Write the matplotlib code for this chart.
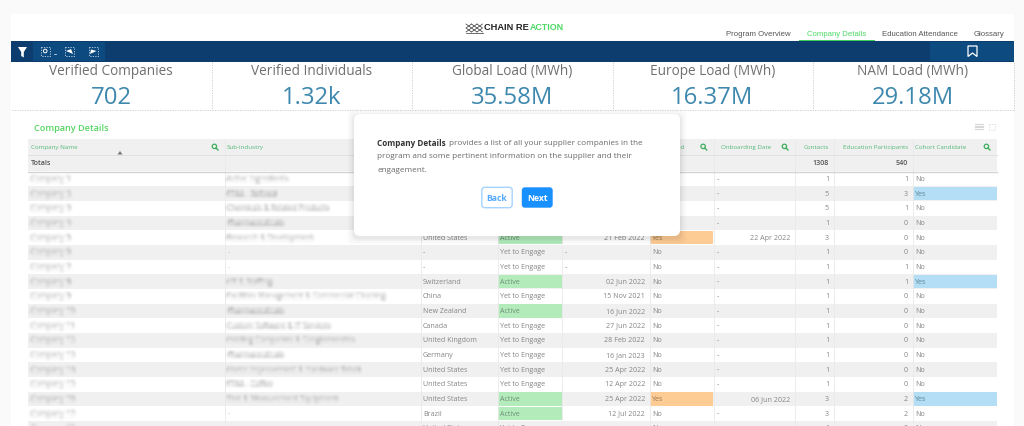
import numpy as np
import matplotlib
matplotlib.use("Agg")
import matplotlib.pyplot as plt
from matplotlib.patches import Rectangle, FancyBboxPatch, Polygon, Circle

# ---------- data ----------
kpi_titles = ["Verified Companies", "Verified Individuals", "Global Load (MWh)", "Europe Load (MWh)", "NAM Load (MWh)"]
kpi_values = ["702", "1.32k", "35.58M", "16.37M", "29.18M"]
tabs = ["Program Overview", "Company Details", "Education Attendance", "Glossary"]
headers = ["Company Name", "Sub-industry", "", "", "", "Onboarded", "Onboarding Date",
           "Contacts", "Education Participants", "Cohort Candidate"]
total_contacts = 1308
total_participants = 540
companies = [f"Company {i}" for i in range(1, 19)]
sub_industries = ["Active Ingredients", "PFAA - Refined", "Chemicals & Related Products", "Pharmaceuticals",
                  "Research & Development", "-", "-", "HR & Staffing",
                  "Facilities Management & Commercial Cleaning", "Pharmaceuticals",
                  "Custom Software & IT Services", "Holding Companies & Conglomerates", "Pharmaceuticals",
                  "Home Improvement & Hardware Retail", "PFAA - Coffee", "Test & Measurement Equipment", "-", "-"]
countries = ["", "", "", "", "United States", "-", "-", "Switzerland", "China", "New Zealand", "Canada",
             "United Kingdom", "Germany", "United States", "United States", "United States", "Brazil", "United States"]
statuses = ["", "", "", "", "Active", "Yet to Engage", "Yet to Engage", "Active", "Yet to Engage", "Active",
            "Yet to Engage", "Yet to Engage", "Yet to Engage", "Yet to Engage", "Yet to Engage", "Active", "Active",
            "Yet to Engage"]
added = ["", "", "", "", "21 Feb 2022", "-", "-", "02 Jun 2022", "15 Nov 2021", "16 Jun 2022", "27 Jun 2022",
         "28 Feb 2022", "16 Jan 2023", "25 Apr 2022", "12 Apr 2022", "25 Apr 2022", "12 Jul 2022", "14 Jul 2022"]
onboarded = ["", "", "", "", "Yes", "No", "No", "No", "No", "No", "No", "No", "No", "No", "No", "Yes", "No", "No"]
onboarding_dates = ["-", "-", "-", "-", "22 Apr 2022", "-", "-", "-", "-", "-", "-", "-", "-", "-", "-",
                    "06 Jun 2022", "-", "-"]
contacts = [1, 5, 5, 1, 3, 1, 1, 1, 1, 1, 1, 1, 1, 1, 1, 3, 3, 1]
participants = [1, 3, 1, 0, 0, 0, 1, 1, 0, 0, 0, 0, 0, 0, 0, 2, 2, 0]
cohort = ["No", "Yes", "No", "No", "No", "No", "No", "Yes", "No", "No", "No", "No", "No", "No", "No", "Yes", "No", "No"]

# ---------- layout / style ----------
W, H = 1024, 426
FONT = "Open Sans"
NAVY, NAVY2 = "#0c3d6e", "#0d4a80"
GREY_ROW = "#f0f0f0"
LINE = "#e9e9e9"
HDR_GREEN = "#55b878"
BODY = "#858585"
BS = 5.1   # body font size
col_edges = [28, 224.5, 420.5, 497.5, 562, 649.5, 713.5, 795, 834, 913, 997]
row_top0, row_h = 171.5, 14.67


def blur(sigma):
    r = int(3 * sigma) + 1
    k = np.exp(-0.5 * (np.arange(-r, r + 1) / sigma) ** 2)
    k /= k.sum()

    def f(im, dpi):
        im = np.pad(im, ((r, r), (r, r), (0, 0)))
        im = np.apply_along_axis(lambda v: np.convolve(v, k, mode="same"), 0, im)
        im = np.apply_along_axis(lambda v: np.convolve(v, k, mode="same"), 1, im)
        return im, -r, -r
    return f


fig = plt.figure(figsize=(W / 100, H / 100), dpi=100, facecolor="#fafafa")
ax = fig.add_axes([0, 0, 1, 1])
ax.set_xlim(0, W)
ax.set_ylim(H, 0)
ax.axis("off")


def rect(x0, y0, x1, y1, color, z=1, **kw):
    ax.add_patch(Rectangle((x0, y0), x1 - x0, y1 - y0, facecolor=color, edgecolor="none", zorder=z, **kw))


def txt(x, y, s, size, color=BODY, ha="left", weight="normal", z=4, family=FONT, **kw):
    return ax.text(x, y, s, fontsize=size, color=color, ha=ha, va="center", fontweight=weight,
                   family=family, zorder=z, **kw)


def search_icon(x, y, color="#3fae5e"):
    ax.add_patch(Circle((x - 0.6, y - 0.6), 2.2, fill=False, edgecolor=color, lw=0.9, zorder=4))
    ax.plot([x + 1, x + 3], [y + 1, y + 3], color=color, lw=1.0, zorder=4)


# page panel
rect(11, 14, 1014, H, "white", 0.5)

# logo
for i in range(3):
    for d in (0, 1):
        xs = [466 + i * 5.5 + d * 5.5, 466 + i * 5.5 + (1 - d) * 5.5, 466 + i * 5.5 + d * 5.5]
        ax.plot(xs, [24, 28, 32], color="#333333", lw=0.5, zorder=3)
ax.plot([465.5, 482.5], [32.6, 32.6], color="#333333", lw=0.5, zorder=3)
txt(484.5, 28, "CHAIN RE", 6.7, "#222222", weight="bold", family="Liberation Sans")
txt(529.3, 28, "ACTION", 6.4, "#4cd964", weight="bold", family="Liberation Sans")

# tabs
tab_x = [758.5, 836.5, 920, 989.5]
for name, x in zip(tabs, tab_x):
    txt(x, 34.3, name, 5.6, "#4cd964" if name == "Company Details" else "#555555", ha="center",
        family="Liberation Sans")
rect(799, 39.5, 875, 41, "#3ccf55", 3)

# navy toolbar
rect(11, 41, 1014, 61.5, NAVY, 2)
rect(33, 41.5, 105, 61, NAVY2, 2.1)
rect(930, 41.5, 1014, 61, NAVY2, 2.1)
ax.add_patch(Polygon([[18, 47], [27, 47], [23.8, 52], [23.8, 57.5], [21.2, 56], [21.2, 52]], facecolor="white", zorder=3))
for x in [41, 65, 88.5]:
    ax.add_patch(Rectangle((x, 47), 9, 8.5, fill=False, edgecolor="#c4d6e8", lw=0.6, ls=(0, (1.5, 1.5)), zorder=3))
ax.add_patch(Circle((45.2, 51), 1.8, fill=False, edgecolor="white", lw=0.7, zorder=3))
ax.plot([54, 56], [53.5, 53.5], color="#c4d6e8", lw=0.6, zorder=3)
ax.add_patch(Polygon([[66, 51], [71, 49], [73, 54]], facecolor="white", zorder=3))
ax.add_patch(Polygon([[96.5, 51], [91, 49.5], [90, 54]], facecolor="white", zorder=3))
ax.add_patch(Polygon([[968, 46], [977, 46], [977, 56.5], [972.5, 53], [968, 56.5]], fill=False,
                     edgecolor="white", lw=0.9, zorder=3))

# KPI band
kpi_edges = [12, 211.5, 412, 612.5, 813, 1013.5]
for i, (t, v) in enumerate(zip(kpi_titles, kpi_values)):
    c = (kpi_edges[i] + kpi_edges[i + 1]) / 2
    txt(c - 0.5, 71.5, t, 9.8, "#707070", ha="center")
    txt(c - 0.5, 97.6, v, 17.2, "#3e88ae", ha="center")
for x in kpi_edges[1:]:
    ax.plot([x, x], [61.5, 109.8], color="#c9c9c9", lw=0.6, ls=(0, (1.5, 1.5)), zorder=2)
ax.plot([12, 1013.5], [109.8, 109.8], color="#c9c9c9", lw=0.6, ls=(0, (1.5, 1.5)), zorder=2)

# table title + icons
txt(34, 128.8, "Company Details", 6.6, "#55d662", weight="semibold")
for dy in (-2.6, -0.9, 0.8, 2.5):
    ax.plot([975, 983], [126.5 + dy] * 2, color="#d8d8d8", lw=0.8, zorder=3)
ax.add_patch(Rectangle((989, 123.5), 6, 6, fill=False, edgecolor="#d8d8d8", lw=0.6, ls=(0, (1.5, 1.5)), zorder=3))

# header + totals
rect(28, 139, 997, 155, GREY_ROW, 1)
rect(28, 155, 997, 171, GREY_ROW, 1)
ax.plot([28, 997], [155.2, 155.2], color="#e2e2e2", lw=0.7, zorder=2)
ax.plot([28, 997], [171.6, 171.6], color="#d4d4d4", lw=1.0, zorder=2)
hdr_pos = [(31, "left"), (227, "left"), (423, "left"), (500, "left"), (565, "left"), (685, "right"),
           (721, "left"), (829, "right"), (908, "right"), (915, "left")]
for name, (x, ha) in zip(headers, hdr_pos):
    if name:
        txt(x, 147.8, name, 4.5, HDR_GREEN, ha=ha)
for x in [215, 703.7, 785, 987]:
    search_icon(x, 147)
ax.add_patch(Polygon([[117.5, 154.5], [122.5, 154.5], [120, 151]], facecolor="#777777", zorder=4))
txt(31, 163.3, "Totals", BS, "#555555", weight="semibold")
txt(829, 163.3, str(total_contacts), BS, "#555555", ha="right", weight="semibold")
txt(908, 163.3, str(total_participants), BS, "#555555", ha="right", weight="semibold")

# rows
for i in range(len(companies)):
    top = row_top0 + i * row_h
    bot = top + row_h
    y = top + row_h / 2 + 0.6
    if i % 2 == 1:
        rect(28, top, 997, bot, GREY_ROW, 1)
    t = txt(31, y, companies[i], 5.4, "#8a8a8a")
    t.set_agg_filter(blur(1.6))
    if sub_industries[i] != "-":
        t = txt(227, y, sub_industries[i], 5.2, "#8a8a8a")
        t.set_agg_filter(blur(1.5))
    else:
        txt(228, y, "-", BS, "#c8c8c8")
    if countries[i]:
        txt(423, y, countries[i], BS, BODY)
    if statuses[i] == "Active":
        rect(497.5, top + 0.5, 562, bot - 0.5, "#b3ebbb", 1.5)
    if statuses[i]:
        txt(500, y, statuses[i], BS, "#6f8f78" if statuses[i] == "Active" else BODY)
    if added[i] == "-":
        txt(565, y, "-", BS, BODY)
    elif added[i]:
        txt(645, y, added[i], BS, BODY, ha="right")
    if onboarded[i] == "Yes":
        rect(650, top + 0.5, 713, bot - 0.5, "#fdcb94", 1.5)
    if onboarded[i]:
        txt(652, y, onboarded[i], BS, "#9a7a55" if onboarded[i] == "Yes" else BODY)
    if onboarding_dates[i] == "-":
        txt(716.5, y, "-", BS, BODY)
    else:
        txt(790, y, onboarding_dates[i], BS, BODY, ha="right")
    txt(829, y, str(contacts[i]), BS, BODY, ha="right")
    txt(908, y, str(participants[i]), BS, BODY, ha="right")
    if cohort[i] == "Yes":
        rect(913, top + 0.5, 997, bot - 0.5, "#b3def5", 1.5)
    txt(915, y, cohort[i], BS, "#5f8397" if cohort[i] == "Yes" else BODY)

for x in col_edges[1:-1]:
    ax.plot([x, x], [139, H], color=LINE, lw=0.6, zorder=1.8)

# modal with soft shadow
mx0, my0, mx1, my1 = 354, 114, 680, 236
for grow, a in [(7, 0.012), (5, 0.018), (3, 0.025), (1.5, 0.035)]:
    ax.add_patch(FancyBboxPatch((mx0 + 5 - grow, my0 + 5 - grow + 2), mx1 - mx0 - 10 + 2 * grow, my1 - my0 - 10 + 2 * grow,
                                boxstyle="round,pad=5,rounding_size=6", facecolor="black", edgecolor="none",
                                alpha=a, zorder=9))
ax.add_patch(FancyBboxPatch((mx0 + 5, my0 + 5), mx1 - mx0 - 10, my1 - my0 - 10,
                            boxstyle="round,pad=5,rounding_size=6", facecolor="white", edgecolor="none", zorder=10))
txt(377, 143.6, "Company Details", 5.9, "#333333", weight="bold", z=11)
txt(449, 143.6, "provides a list of all your supplier companies in the", 5.9, "#6a6a6a", z=11)
txt(377, 157, "program and some pertinent information on the supplier and their", 5.9, "#6a6a6a", z=11)
txt(377, 170.1, "engagement.", 5.9, "#6a6a6a", z=11)
ax.add_patch(FancyBboxPatch((483, 188.5), 28, 18, boxstyle="round,pad=1.2,rounding_size=3", facecolor="white",
                            edgecolor="#a6d4ff", lw=1.0, zorder=11))
ax.add_patch(FancyBboxPatch((523, 188.5), 28.5, 18, boxstyle="round,pad=1.2,rounding_size=3", facecolor="#1890ff",
                            edgecolor="none", zorder=11))
txt(497, 198.3, "Back", 6.2, "#55aaff", ha="center", weight="bold", z=12)
txt(537.5, 198.3, "Next", 6.2, "white", ha="center", weight="bold", z=12)

fig.savefig("out.png", dpi=100, facecolor=fig.get_facecolor())
